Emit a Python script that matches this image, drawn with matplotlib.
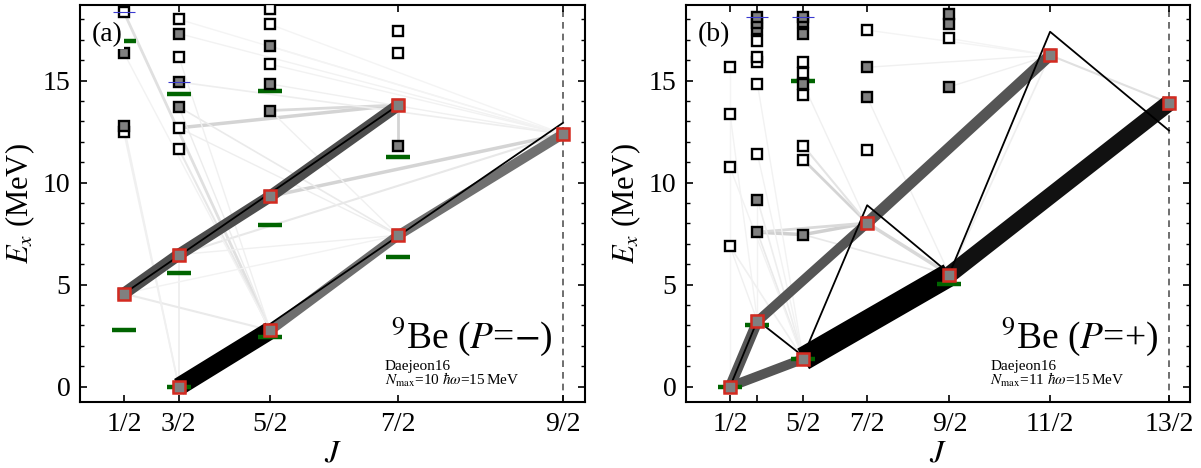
import numpy as np
import matplotlib
matplotlib.use("Agg")
import matplotlib.pyplot as plt
from matplotlib.ticker import MultipleLocator

plt.rcParams['font.family'] = ['Liberation Serif', 'DejaVu Serif']
plt.rcParams['mathtext.fontset'] = 'stix'

# ---------------- panel (a): 9Be, negative parity ----------------
a_J = [0.5, 0.5, 0.5, 0.5, 0.5,
       1.5, 1.5, 1.5, 1.5, 1.5, 1.5, 1.5, 1.5, 1.5,
       2.5, 2.5, 2.5, 2.5, 2.5, 2.5, 2.5, 2.5,
       3.5, 3.5, 3.5, 3.5, 3.5,
       4.5]
a_E = [4.56, 12.47, 12.76, 16.35, 18.35,
       0.0, 6.47, 11.65, 12.68, 13.71, 14.93, 16.16, 17.30, 18.00,
       2.76, 9.33, 13.53, 14.83, 15.80, 16.68, 17.75, 18.48,
       7.42, 11.81, 13.80, 16.35, 17.42,
       12.38]
a_gray = [1, 0, 1, 1, 0,
          1, 1, 0, 0, 1, 1, 0, 1, 0,
          1, 1, 1, 1, 0, 1, 0, 0,
          1, 1, 1, 0, 0,
          1]
a_red = [0, 5, 6, 14, 15, 22, 24, 27]
a_blue = [4, 10]
a_exp_J = [0.5, 0.5, 1.5, 1.5, 1.5, 2.5, 2.5, 2.5, 3.5, 3.5]
a_exp_E = [2.80, 16.96, 0.0, 5.57, 14.36, 2.42, 7.93, 14.48, 6.36, 11.27]

# strong transitions (band members)
a_band_from = [5, 0, 6, 15, 14, 22]
a_band_to = [14, 6, 15, 24, 22, 27]
a_band_lw = [13, 8.5, 8.5, 8.5, 7, 7]
a_band_col = ['#000000', '#4d4d4d', '#4d4d4d', '#4d4d4d', '#6e6e6e', '#707070']

# weak transitions
a_weak_from = [8, 16, 4, 24, 15, 0, 7, 2, 1, 9, 10, 12, 17, 19, 6, 11, 16, 3, 8, 9, 18, 13, 20, 5, 6, 0]
a_weak_to = [24, 24, 14, 23, 27, 14, 14, 5, 5, 22, 27, 27, 27, 27, 27, 14, 22, 14, 22, 14, 27, 27, 27, 6, 22, 22]
a_weak_lw = [2.5, 2, 2, 2, 2.5, 1.5, 1.5, 1.2, 1.2, 1.2, 1.2, 1, 1, 1, 1.5, 1, 1, 1, 1, 1, 1, 1, 1, 1.2, 1, 1]
a_weak_col = ['#d4d4d4', '#dadada', '#e0e0e0', '#d4d4d4', '#d4d4d4', '#eaeaea', '#e8e8e8',
              '#f0f0f0', '#f0f0f0', '#eaeaea', '#eeeeee', '#f2f2f2', '#f0f0f0', '#f2f2f2',
              '#e8e8e8', '#f0f0f0', '#f0f0f0', '#f2f2f2', '#eeeeee', '#ececec', '#f2f2f2',
              '#f4f4f4', '#f4f4f4', '#ececec', '#f0f0f0', '#f2f2f2']

# rotational fit lines
a_fit_J = [[0.5, 3.5], [1.5, 4.5]]
a_fit_E = [[4.56, 13.80], [0.0, 12.93]]

# ---------------- panel (b): 9Be, positive parity ----------------
b_J = [0.5, 0.5, 0.5, 0.5, 0.5,
       1.5, 1.5, 1.5, 1.5, 1.5, 1.5, 1.5, 1.5, 1.5, 1.5, 1.5,
       2.5, 2.5, 2.5, 2.5, 2.5, 2.5, 2.5, 2.5, 2.5, 2.5, 2.5,
       3.5, 3.5, 3.5, 3.5, 3.5,
       4.5, 4.5, 4.5, 4.5, 4.5,
       5.5, 6.5]
b_E = [0.0, 6.88, 10.75, 13.38, 15.67,
       3.20, 7.57, 9.17, 11.40, 14.83, 15.90, 16.16, 16.93, 17.50, 17.80, 18.10,
       1.36, 7.45, 11.13, 11.81, 14.28, 14.83, 15.36, 15.90, 17.30, 17.85, 18.10,
       8.02, 11.58, 14.18, 15.65, 17.47,
       5.49, 14.69, 17.06, 17.78, 18.28,
       16.24, 13.90]
b_gray = [1, 0, 0, 0, 0,
          1, 1, 1, 0, 0, 0, 0, 0, 1, 1, 1,
          1, 1, 0, 0, 0, 1, 0, 0, 1, 1, 1,
          1, 0, 1, 1, 0,
          1, 1, 0, 1, 1,
          1, 1]
b_red = [0, 5, 16, 27, 32, 37, 38]
b_blue = [15, 26]
b_exp_J = [0.5, 1.5, 2.5, 2.5, 4.5]
b_exp_E = [0.0, 3.00, 1.36, 14.98, 5.05]

b_band_from = [0, 0, 5, 27, 16, 32]
b_band_to = [5, 16, 27, 37, 32, 38]
b_band_lw = [7.5, 7, 7, 8, 17, 12]
b_band_col = ['#555555', '#555555', '#555555', '#555555', '#000000', '#111111']

b_weak_from = [6, 17, 6, 27, 18, 37, 33, 30, 37, 1, 6, 7, 2, 17, 29, 19, 8, 3, 4, 9, 21, 31, 34, 1, 7]
b_weak_to = [17, 27, 27, 32, 27, 38, 37, 37, 32, 16, 16, 16, 16, 32, 32, 27, 16, 5, 0, 16, 27, 37, 37, 5, 5]
b_weak_lw = [2.5, 2.5, 2, 2.5, 2, 1.5, 1, 1, 1.2, 1.2, 1.2, 1.2, 1, 1.2, 1, 1.5, 1, 1, 1, 1, 1, 1, 1, 1, 1]
b_weak_col = ['#d0d0d0', '#d0d0d0', '#dadada', '#d8d8d8', '#d4d4d4', '#e0e0e0', '#f0f0f0',
              '#f0f0f0', '#eeeeee', '#f0f0f0', '#eaeaea', '#eeeeee', '#f2f2f2', '#e8e8e8',
              '#f0f0f0', '#e4e4e4', '#f2f2f2', '#f2f2f2', '#f4f4f4', '#f2f2f2', '#f0f0f0',
              '#f4f4f4', '#f4f4f4', '#f0f0f0', '#f2f2f2']

b_fit_J = [[0.5, 1.5, 2.5, 3.5, 4.5, 5.5, 6.5]]
b_fit_E = [[0.0, 3.25, 1.49, 8.89, 5.54, 17.39, 12.55]]

a_ticks = ['1/2', '3/2', '5/2', '7/2', '9/2']
a_tick_J = [0.5, 1.5, 2.5, 3.5, 4.5]
b_ticks = ['1/2', '', '5/2', '7/2', '9/2', '11/2', '13/2']
b_tick_J = [0.5, 1.5, 2.5, 3.5, 4.5, 5.5, 6.5]


def jj(J):
    J = np.asarray(J, dtype=float)
    return J * (J + 1)


def draw_panel(ax, J, E, gray, red, blue, exp_J, exp_E,
               bf, bt, blw, bcol, wf, wt, wlw, wcol, fit_J, fit_E):
    x = jj(J)
    E = np.asarray(E)
    # weak transitions
    for i, j, lw, c in zip(wf, wt, wlw, wcol):
        ax.plot([x[i], x[j]], [E[i], E[j]], color=c, lw=lw, zorder=1, solid_capstyle='butt')
    # strong transitions
    for i, j, lw, c in zip(bf, bt, blw, bcol):
        ax.plot([x[i], x[j]], [E[i], E[j]], color=c, lw=lw, zorder=2, solid_capstyle='butt')
    # fit lines
    for fj, fe in zip(fit_J, fit_E):
        ax.plot(jj(fj), fe, color='black', lw=1.3, zorder=3)
    # experiment
    ax.plot(jj(exp_J), exp_E, ls='none', marker='_', ms=17, mew=3.2,
            color='#006400', zorder=3.5)
    # calculated levels
    g = np.asarray(gray, dtype=bool)
    ax.plot(x[~g], E[~g], ls='none', marker='s', ms=7.5, mew=1.7,
            mfc='white', mec='black', zorder=4)
    ax.plot(x[g], E[g], ls='none', marker='s', ms=7.5, mew=1.7,
            mfc='#808080', mec='black', zorder=4)
    ax.plot(x[red], E[red], ls='none', marker='s', ms=8.5, mew=1.8,
            mfc='#808080', mec='#d42a20', zorder=5)
    ax.plot(x[blue], E[blue], ls='none', marker='_', ms=16, mew=0.8,
            color='#3a3ad0', zorder=5)


fig = plt.figure(figsize=(12.01, 4.68), dpi=100)
ax1 = fig.add_axes([80 / 1201, 66 / 468, 505 / 1201, 397 / 468])
ax2 = fig.add_axes([686 / 1201, 66 / 468, 504 / 1201, 397 / 468])

draw_panel(ax1, a_J, a_E, a_gray, a_red, a_blue, a_exp_J, a_exp_E,
           a_band_from, a_band_to, a_band_lw, a_band_col,
           a_weak_from, a_weak_to, a_weak_lw, a_weak_col, a_fit_J, a_fit_E)
draw_panel(ax2, b_J, b_E, b_gray, b_red, b_blue, b_exp_J, b_exp_E,
           b_band_from, b_band_to, b_band_lw, b_band_col,
           b_weak_from, b_weak_to, b_weak_lw, b_weak_col, b_fit_J, b_fit_E)

panels = [(ax1, a_tick_J, a_ticks, (-1.65, 25.95), '(a)', '$^9$Be ($P$=$-$)', '$N_{\\rm max}$=10 $\\hbar\\omega$=15$\\,$MeV'),
          (ax2, b_tick_J, b_ticks, (-4.06, 51.05), '(b)', '$^9$Be ($P$=+)', '$N_{\\rm max}$=11 $\\hbar\\omega$=15$\\,$MeV')]

for ax, tj, tl, xl, lab, title, nmax in panels:
    ax.axvline(jj(tj[-1]), color='#555555', ls=(0, (4, 3)), lw=1.2, zorder=0.5)
    ax.set_xlim(xl)
    ax.set_ylim(-0.75, 18.7)
    ax.set_xticks(jj(tj))
    ax.set_xticklabels(tl)
    ax.set_yticks([0, 5, 10, 15])
    ax.yaxis.set_minor_locator(MultipleLocator(1))
    ax.tick_params(direction='in', top=True, right=True, labelsize=20, width=1.2, length=5, pad=7)
    ax.tick_params(which='minor', direction='in', right=True, width=1.0, length=3)
    for s in ax.spines.values():
        s.set_linewidth(1.5)
    ax.set_xlabel('$J$', fontsize=23, labelpad=2)
    ax.set_ylabel('$E_x$ (MeV)', fontsize=22, labelpad=4)
    ax.text(0.024, 0.925, lab, transform=ax.transAxes, fontsize=20, ha='left', va='center',
            zorder=10, bbox=dict(facecolor='white', edgecolor='none', pad=1))
    ax.text(0.936, 0.136, title, transform=ax.transAxes, fontsize=27, ha='right', va='baseline', zorder=10)
    ax.text(0.604, 0.081, 'Daejeon16', transform=ax.transAxes, fontsize=11, ha='left', va='baseline', zorder=10)
    ax.text(0.604, 0.043, nmax, transform=ax.transAxes, fontsize=11, ha='left', va='baseline', zorder=10)

plt.savefig('out.png', dpi=100)
plt.close()
